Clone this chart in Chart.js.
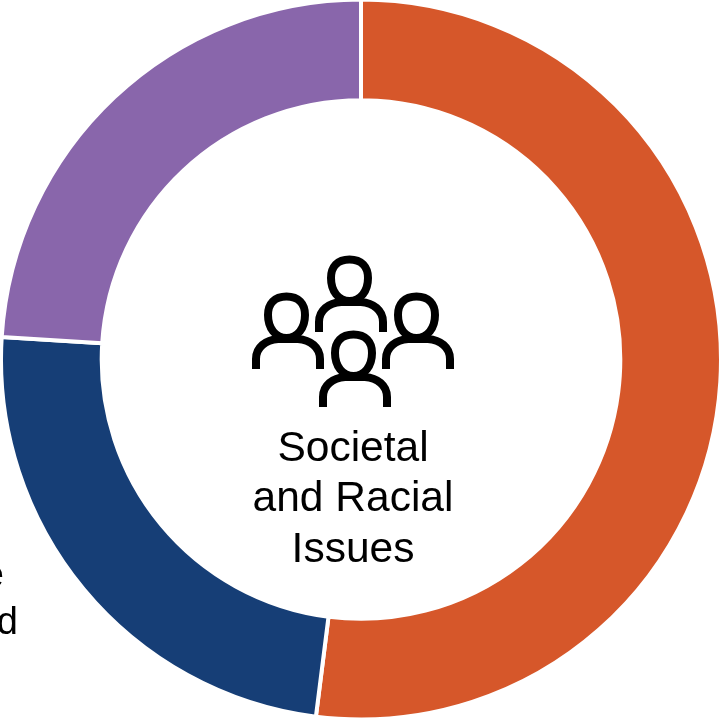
<!DOCTYPE html>
<html>
<head>
<meta charset="utf-8">
<title>Societal and Racial Issues</title>
<script src="https://cdn.jsdelivr.net/npm/chart.js@4"></script>
<style>
    html, body { margin: 0; padding: 0; background: #fff; overflow: hidden; }
    #chartBox { position: relative; width: 723px; height: 721px; }
</style>
</head>
<body>
<div id="chartBox"><canvas id="issuesChart"></canvas></div>
<script>
// Share of each ring segment, clockwise from twelve o'clock
const segments = ['Segment A', 'Segment B', 'Segment C'];
const shares = [52, 24, 24];
const segmentColors = ['#D6572A', '#163E76', '#8966AB'];

const centerLines = ['Societal', 'and Racial', 'Issues'];

// Draws one person of the group icon: head outline and shoulders
function drawPerson(ctx, cx, top) {
    const hx = cx - 1.5;

    // Head is a tall oval that runs down into the shoulder line
    ctx.beginPath();
    ctx.moveTo(hx, top + 3.5);
    ctx.bezierCurveTo(hx + 12, top + 3.5, hx + 18.5, top + 11, hx + 18.5, top + 22);
    ctx.bezierCurveTo(hx + 18.5, top + 35, hx + 11, top + 45, hx, top + 45);
    ctx.bezierCurveTo(hx - 11, top + 45, hx - 18.5, top + 35, hx - 18.5, top + 22);
    ctx.bezierCurveTo(hx - 18.5, top + 11, hx - 12, top + 3.5, hx, top + 3.5);
    ctx.closePath();
    ctx.stroke();

    ctx.beginPath();
    ctx.moveTo(cx - 32, top + 76);
    ctx.lineTo(cx - 32, top + 66);
    ctx.bezierCurveTo(cx - 32, top + 54, cx - 22, top + 47, cx - 10, top + 46);
    ctx.lineTo(cx + 10, top + 46);
    ctx.bezierCurveTo(cx + 22, top + 47, cx + 32, top + 54, cx + 32, top + 66);
    ctx.lineTo(cx + 32, top + 76);
    ctx.stroke();
}

// Icon and caption in the hole, plus the cut-off label at the left edge
const centerContent = {
    id: 'centerContent',
    afterDraw(chart) {
        const ctx = chart.ctx;
        ctx.save();

        ctx.strokeStyle = '#000';
        ctx.lineWidth = 8;
        drawPerson(ctx, 351, 256);
        drawPerson(ctx, 288, 293);
        drawPerson(ctx, 418, 293);
        drawPerson(ctx, 355, 331);

        ctx.fillStyle = '#000';
        ctx.textAlign = 'center';
        ctx.textBaseline = 'alphabetic';
        ctx.font = '42.5px "Liberation Sans", Arial, sans-serif';
        ctx.fillText(centerLines[0], 353, 461);
        ctx.fillText(centerLines[1], 353, 511);
        ctx.fillText(centerLines[2], 353, 562);

        ctx.textAlign = 'right';
        ctx.font = '38px "Liberation Sans", Arial, sans-serif';
        ctx.fillText('e', 4, 587);
        ctx.fillText('d', 18, 634);

        ctx.restore();
    }
};

function renderIssuesChart() {
    const ctx = document.getElementById('issuesChart').getContext('2d');

    new Chart(ctx, {
        type: 'doughnut',
        data: {
            labels: segments,
            datasets: [{
                data: shares,
                backgroundColor: segmentColors,
                borderColor: '#fff',
                borderWidth: 4,
                clip: false
            }]
        },
        options: {
            responsive: true,
            maintainAspectRatio: false,
            animation: false,
            radius: 360,
            cutout: 257.5,
            layout: {
                padding: { left: 0, right: 1, top: 0, bottom: 2 }
            },
            plugins: {
                legend: { display: false },
                tooltip: { enabled: false }
            }
        },
        plugins: [centerContent]
    });
}

renderIssuesChart();
</script>
</body>
</html>
